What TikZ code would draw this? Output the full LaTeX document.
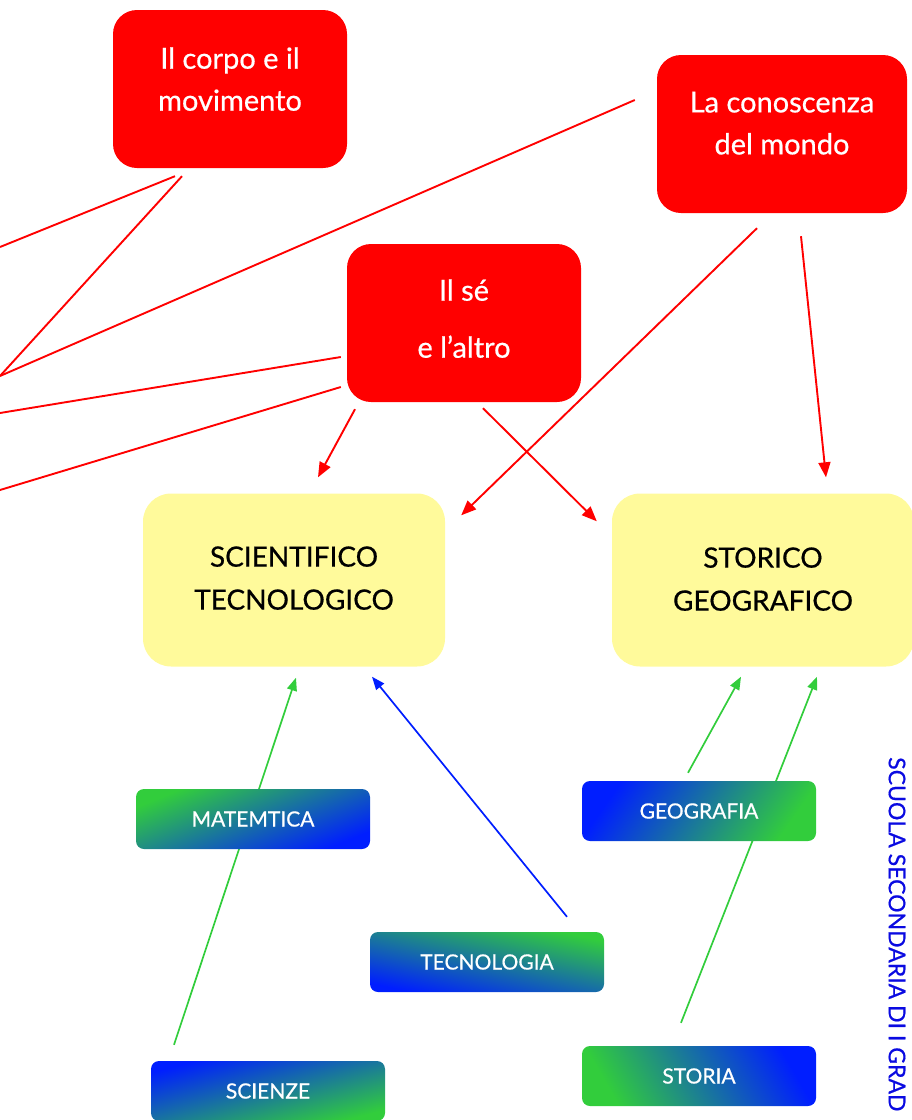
\documentclass[tikz,border=0pt]{standalone}
\usepackage{fontspec}
\setmainfont{Lato}
\newfontfamily\boxfont[FakeBold=0.6]{Lato}
\usetikzlibrary{arrows.meta,positioning}
\definecolor{paleyellow}{RGB}{255,250,155}
\definecolor{subjgreen}{RGB}{50,205,60}
\definecolor{subjblue}{RGB}{0,30,255}
\definecolor{titleblue}{RGB}{10,10,225}

\begin{document}
\begin{tikzpicture}[x=1pt,y=-1pt,
			redbox/.style = {
				fill=red, rounded corners=24pt, text=white, align=center,
				minimum width=234pt, minimum height=158pt,
				font=\boxfont\fontsize{29}{42}\selectfont
			},
			areabox/.style = {
				fill=paleyellow, rounded corners=28pt, align=center,
				minimum width=302pt, minimum height=173pt,
				font=\boxfont\fontsize{28}{43}\selectfont
			},
			subjbox/.style = {
				rounded corners=8pt, text=white,
				minimum width=234pt, minimum height=60pt,
				font=\boxfont\fontsize{21}{22}\selectfont
			},
			redline/.style = {red, line width=1.9pt},
			redarrow/.style = {redline, -{Triangle[length=15pt,width=12pt]}},
			greenarrow/.style = {subjgreen, line width=1.7pt, -{Triangle[length=13pt,width=10pt]}},
			bluearrow/.style = {subjblue, line width=1.7pt, -{Triangle[length=13pt,width=10pt]}}
			]
			\clip (0,0) rectangle (912,1120);
			% main areas
			\node (corpo) [redbox, text depth=20pt] at (230,89) {Il corpo e il\\movimento};
			\node (mondo) [redbox, minimum width=250pt, text depth=22pt] at (782,134) {La conoscenza\\del mondo};
			\node (se) [redbox, font=\boxfont\fontsize{29}{57}\selectfont, text depth=9pt] at (464,323) {Il sé\\e l’altro};
			\node (scient) [areabox, text depth=4pt] at (294,580) {SCIENTIFICO\\TECNOLOGICO};
			\node (storgeo) [areabox, text depth=2pt] at (763,580) {STORICO\\GEOGRAFICO};
			% free ends on the left border
			\coordinate (lA) at (0,247);
			\coordinate (lB) at (0,376);
			\coordinate (lC) at (0,413);
			\coordinate (lD) at (0,490);
			\path [redline]
			([xshift=-55pt,yshift=-8pt]corpo.south) edge (lA)
			([xshift=-48pt,yshift=-8pt]corpo.south) edge (lB)
			([xshift=-22pt,yshift=34pt]mondo.west) edge (lB)
			([xshift=-6pt,yshift=-34pt]se.west) edge (lC)
			([xshift=-6pt,yshift=-64pt]se.west) edge (lD);
			\path [redarrow]
			([xshift=-109pt,yshift=-7pt]se.south) edge ([xshift=24pt,yshift=16pt]scient.north)
			([xshift=19pt,yshift=-6pt]se.south) edge ([xshift=-15pt,yshift=-28pt]storgeo.north west)
			([xshift=-25pt,yshift=-15pt]mondo.south) edge ([xshift=16pt,yshift=-22pt]scient.north east)
			([xshift=19pt,yshift=-23pt]mondo.south) edge ([xshift=63pt,yshift=16pt]storgeo.north);
			% subjects: lines first, boxes on top
			\coordinate (matPos) at (253,819);
			\coordinate (tecPos) at (487,962);
			\coordinate (geoPos) at (699,811);
			\coordinate (sciPos) at (268,1091);
			\coordinate (stoPos) at (699,1076);
			\node (scienze) [subjbox, top color=subjblue, bottom color=subjgreen, shading angle=15] at (sciPos) {SCIENZE};
			\node (storia) [subjbox, top color=subjblue, bottom color=subjgreen, shading angle=-60] at (stoPos) {STORIA};
			\node (tecno) [subjbox, top color=subjgreen, bottom color=subjblue, shading angle=-12] at (tecPos) {TECNOLOGIA};
			\path [greenarrow]
			([xshift=-94pt,yshift=16pt]scienze.north) edge ([xshift=2pt,yshift=-11pt]scient.south)
			([xshift=-18pt,yshift=23pt]storia.north) edge ([xshift=54pt,yshift=-10pt]storgeo.south);
			\path [bluearrow]
			([xshift=80pt,yshift=15pt]tecno.north) edge ([xshift=78pt,yshift=-10pt]scient.south);
			\node (matem) [subjbox, top color=subjgreen, bottom color=subjblue, shading angle=22] at (matPos) {MATEMTICA};
			\node (geogr) [subjbox, top color=subjblue, bottom color=subjgreen, shading angle=55] at (geoPos) {GEOGRAFIA};
			\path [greenarrow]
			([xshift=-11pt,yshift=8pt]geogr.north) edge ([xshift=-22pt,yshift=-10pt]storgeo.south);
			% school title
			\node (scuola) [rotate=-90, anchor=west, text=titleblue, inner sep=0pt,
			font=\boxfont\fontsize{23}{24}\selectfont] at (897,757) {SCUOLA SECONDARIA DI I GRAD};
		\end{tikzpicture}
\end{document}
